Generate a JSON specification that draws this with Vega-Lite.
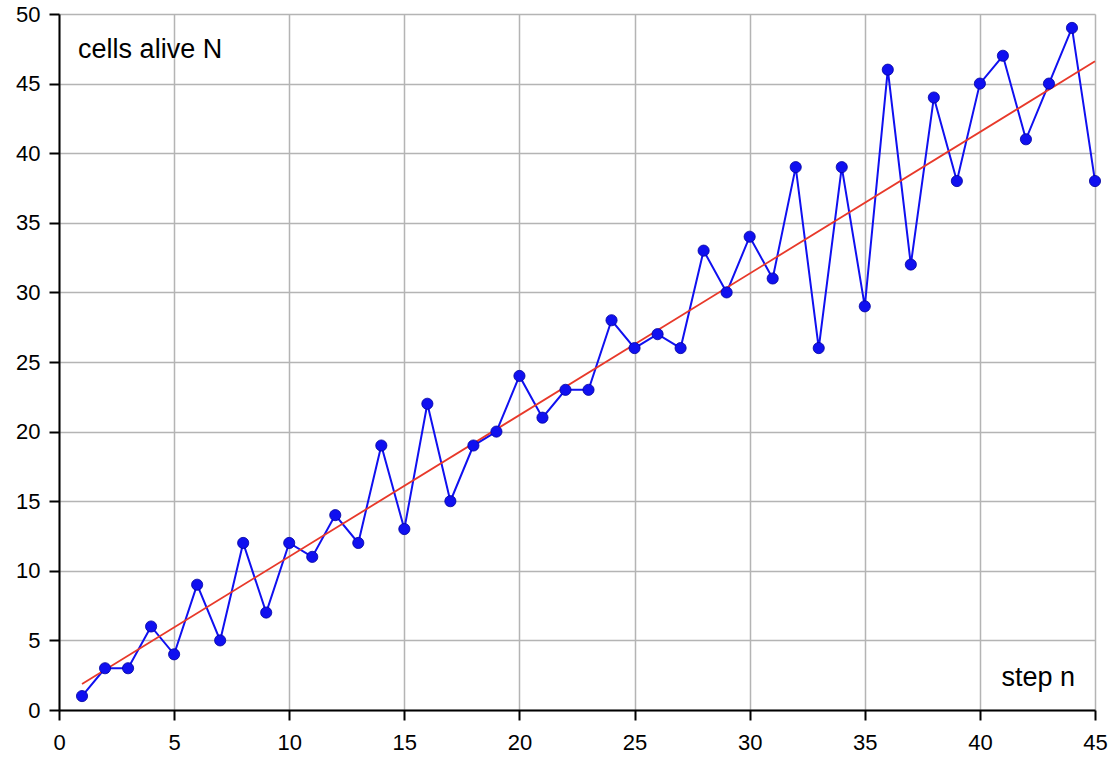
{
  "$schema": "https://vega.github.io/schema/vega-lite/v6.json",
  "width": 1036,
  "height": 696,
  "autosize": {"type": "none"},
  "padding": {"left": 59, "top": 14, "right": 21, "bottom": 54},
  "background": "white",
  "config": {
    "view": {"stroke": null},
    "font": "Liberation Sans",
    "axis": {
      "gridColor": "#b4b4b4",
      "gridWidth": 1.5,
      "gridOpacity": 1,
      "domainColor": "#000000",
      "domainWidth": 2,
      "tickColor": "#000000",
      "tickWidth": 2,
      "tickSize": 10,
      "labelFont": "Liberation Sans",
      "labelFontSize": 22,
      "labelColor": "#000000",
      "title": null
    }
  },
  "datasets": {
    "cells": [
      {"n": 1, "N": 1}, {"n": 2, "N": 3}, {"n": 3, "N": 3}, {"n": 4, "N": 6}, {"n": 5, "N": 4},
      {"n": 6, "N": 9}, {"n": 7, "N": 5}, {"n": 8, "N": 12}, {"n": 9, "N": 7}, {"n": 10, "N": 12},
      {"n": 11, "N": 11}, {"n": 12, "N": 14}, {"n": 13, "N": 12}, {"n": 14, "N": 19}, {"n": 15, "N": 13},
      {"n": 16, "N": 22}, {"n": 17, "N": 15}, {"n": 18, "N": 19}, {"n": 19, "N": 20}, {"n": 20, "N": 24},
      {"n": 21, "N": 21}, {"n": 22, "N": 23}, {"n": 23, "N": 23}, {"n": 24, "N": 28}, {"n": 25, "N": 26},
      {"n": 26, "N": 27}, {"n": 27, "N": 26}, {"n": 28, "N": 33}, {"n": 29, "N": 30}, {"n": 30, "N": 34},
      {"n": 31, "N": 31}, {"n": 32, "N": 39}, {"n": 33, "N": 26}, {"n": 34, "N": 39}, {"n": 35, "N": 29},
      {"n": 36, "N": 46}, {"n": 37, "N": 32}, {"n": 38, "N": 44}, {"n": 39, "N": 38}, {"n": 40, "N": 45},
      {"n": 41, "N": 47}, {"n": 42, "N": 41}, {"n": 43, "N": 45}, {"n": 44, "N": 49}, {"n": 45, "N": 38}
    ],
    "fit": [
      {"n": 1, "N": 1.87},
      {"n": 45, "N": 46.6}
    ],
    "labelLeft": [
      {"n": 0.83, "N": 47.4, "text": "cells alive N"}
    ],
    "labelRight": [
      {"n": 44.13, "N": 2.3, "text": "step n"}
    ]
  },
  "layer": [
    {
      "data": {"name": "cells"},
      "mark": {"type": "line", "color": "#1010f0", "strokeWidth": 2},
      "encoding": {
        "x": {
          "field": "n", "type": "quantitative",
          "scale": {"domain": [0, 45], "nice": false, "zero": false},
          "axis": {"values": [0, 5, 10, 15, 20, 25, 30, 35, 40, 45], "labelPadding": 12, "labelFlush": false}
        },
        "y": {
          "field": "N", "type": "quantitative",
          "scale": {"domain": [0, 50], "nice": false},
          "axis": {"values": [0, 5, 10, 15, 20, 25, 30, 35, 40, 45, 50], "labelPadding": 9, "labelFlush": false}
        }
      }
    },
    {
      "data": {"name": "fit"},
      "mark": {"type": "line", "color": "#e8392a", "strokeWidth": 1.8},
      "encoding": {
        "x": {"field": "n", "type": "quantitative"},
        "y": {"field": "N", "type": "quantitative"}
      }
    },
    {
      "data": {"name": "cells"},
      "mark": {"type": "point", "filled": true, "color": "#1010f0", "size": 125, "opacity": 1, "stroke": "#0000a0", "strokeWidth": 0.8},
      "encoding": {
        "x": {"field": "n", "type": "quantitative"},
        "y": {"field": "N", "type": "quantitative"}
      }
    },
    {
      "data": {"name": "labelLeft"},
      "mark": {"type": "text", "fontSize": 27, "align": "left", "baseline": "middle", "color": "#000000", "font": "Liberation Sans"},
      "encoding": {
        "x": {"field": "n", "type": "quantitative"},
        "y": {"field": "N", "type": "quantitative"},
        "text": {"field": "text"}
      }
    },
    {
      "data": {"name": "labelRight"},
      "mark": {"type": "text", "fontSize": 27, "align": "right", "baseline": "middle", "color": "#000000", "font": "Liberation Sans"},
      "encoding": {
        "x": {"field": "n", "type": "quantitative"},
        "y": {"field": "N", "type": "quantitative"},
        "text": {"field": "text"}
      }
    }
  ]
}
